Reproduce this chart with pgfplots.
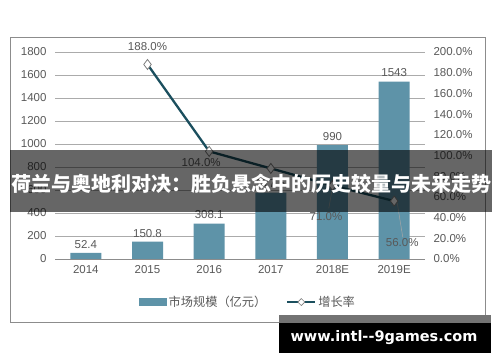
\documentclass[border=0pt]{standalone}
\usepackage{fontspec}
\setmainfont{Liberation Sans}
\newfontfamily\cjk{Noto Sans CJK SC}
\newfontfamily\wm{DejaVu Sans}
\usepackage{pgfplots}
\pgfplotsset{compat=1.18}
\definecolor{barc}{HTML}{5E93A8}
\definecolor{linec}{HTML}{1B4F5E}
\definecolor{txt}{HTML}{595959}
\definecolor{gridc}{HTML}{ABABAB}
\definecolor{framec}{HTML}{8C8C8C}
\begin{document}
\begin{tikzpicture}[x=1pt,y=1pt]
\fill[white] (0,0) rectangle (500,362);
\path[use as bounding box] (0,0) rectangle (500,362);
\draw[framec, line width=0.8pt] (10,40) rectangle (485,325);
\begin{axis}[
  at={(55pt,103pt)}, anchor=south west,
  scale only axis, width=370pt, height=207pt,
  xmin=-0.5, xmax=5.5, ymin=0, ymax=1800,
  axis line style={draw=none},
  major tick length=0pt,
  xtick={0,...,5},
  xticklabels={2014,2015,2016,2017,2018E,2019E},
  ytick={0,200,...,1800},
  ymajorgrids, grid style={gridc, line width=0.8pt},
  /pgf/number format/assume math mode=true,
  /pgf/number format/1000 sep={},
  ticklabel style={font=\fontsize{11.5}{13}\selectfont, text=txt},
  yticklabel style={xshift=-5pt},
  xticklabel style={yshift=-3pt},
  ybar, bar width=31pt,
  nodes near coords,
  every node near coord/.append style={font=\fontsize{11.5}{13}\selectfont, text=txt, yshift=1pt},
  clip=false,
]
\addplot[fill=barc, draw=none] coordinates {(0,52.4) (1,150.8) (2,308.1) (3,577.5) (4,990) (5,1543)};
\draw[framec, line width=0.9pt] (rel axis cs:0,0) -- (rel axis cs:1,0);
\end{axis}
\begin{axis}[
  at={(55pt,103pt)}, anchor=south west,
  scale only axis, width=370pt, height=207pt,
  xmin=-0.5, xmax=5.5, ymin=0, ymax=200,
  axis line style={draw=none},
  major tick length=0pt,
  hide x axis,
  yticklabel pos=right,
  ytick={0,20,...,200},
  /pgf/number format/assume math mode=true,
  yticklabel={\pgfmathprintnumber[fixed,fixed zerofill,precision=1]{\tick}\%},
  ticklabel style={font=\fontsize{11.5}{13}\selectfont, text=txt},
  yticklabel style={xshift=5pt},
  clip=false,
  legend style={at={(0.522,-0.208)}, anchor=center, draw=none, fill=none,
    font=\cjk\fontsize{12.2}{14}\selectfont, text=txt,
    /tikz/every even column/.append style={column sep=18pt}},
  legend columns=2,
]
\addlegendimage{legend image code/.code={\fill[barc] (0pt,-3.5pt) rectangle (27pt,3.5pt);}}
\addlegendentry{市场规模（亿元）}
\addplot[linec, line width=2.3pt, mark=diamond*, mark size=5pt,
  mark options={fill=white, draw=gray, line width=0.8pt},
  legend image code/.code={\draw[linec, line width=2pt] (0pt,0pt) -- (28pt,0pt);
    \draw[gray, fill=white, line width=0.6pt] (14pt,-3.5pt) -- (17.5pt,0pt) -- (14pt,3.5pt) -- (10.5pt,0pt) -- cycle;}]
  coordinates {(1,188) (2,104) (3,87.5) (4,71) (5,56)};
\addlegendentry{增长率}
\draw[gray!70, line width=0.5pt] (axis cs:3.94,49) -- (axis cs:4,69);
\draw[gray!70, line width=0.5pt] (axis cs:5.05,54) -- (axis cs:5.14,21);
\node[font=\fontsize{11.5}{13}\selectfont, text=txt] at (axis cs:1,204.8) {188.0\%};
\node[font=\fontsize{11.5}{13}\selectfont, text=txt] at (axis cs:1.87,93.2) {104.0\%};
\node[font=\fontsize{11.5}{13}\selectfont, text=txt] at (axis cs:3.895,41.5) {71.0\%};
\node[font=\fontsize{11.5}{13}\selectfont, text=txt] at (axis cs:5.13,15.5) {56.0\%};
\end{axis}
% overlay banner
\fill[black, opacity=0.6] (10,150) rectangle (492,212);
\node[text=white, font=\cjk\bfseries\fontsize{20}{22}\selectfont] at (251,178) {荷兰与奥地利对决：胜负悬念中的历史较量与未来走势};
% watermark
\fill[black!55] (279,39) rectangle (491,47);
\fill[black] (279,9) rectangle (491,39);
\node[text=white, font=\wm\bfseries\fontsize{14.5}{16}\selectfont] at (384,24) {www.intl--9games.com};
\end{tikzpicture}
\end{document}
